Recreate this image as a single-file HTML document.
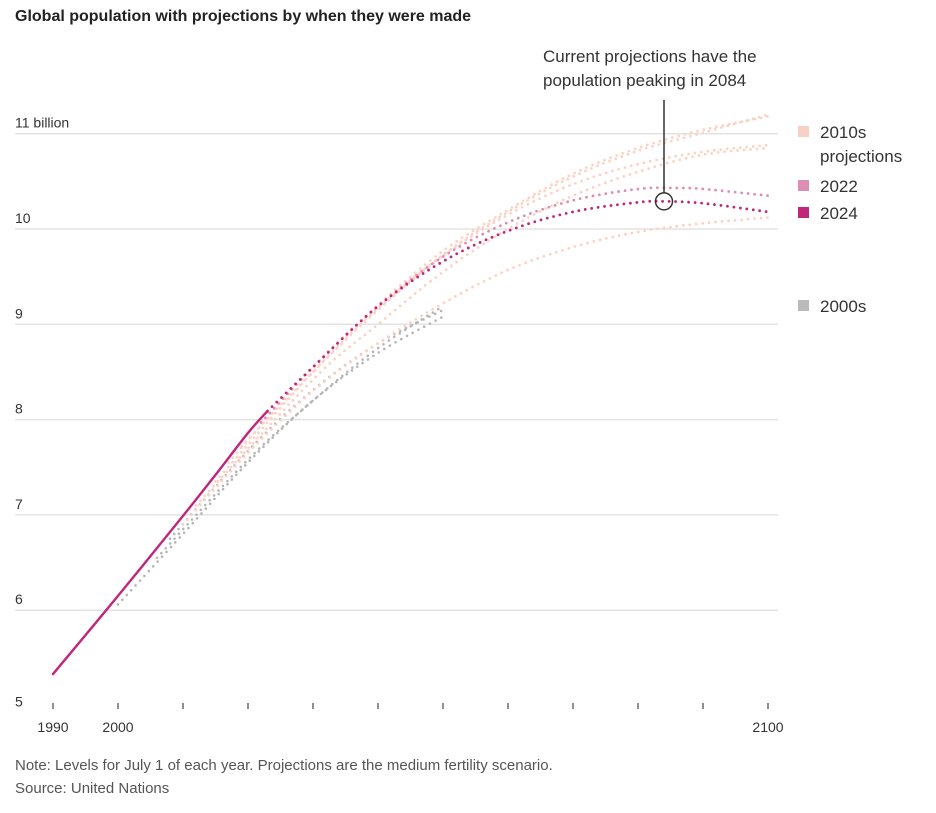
<!DOCTYPE html>
<html><head><meta charset="utf-8"><style>
body{margin:0;background:#fff;font-family:"Liberation Sans",sans-serif;}
</style></head><body>
<svg id="c" width="936" height="813" style="display:block">
<text x="15" y="21" font-size="16" font-weight="bold" fill="#222">Global population with projections by when they were made</text>
<g id="grid"></g><g id="series"></g>
<text x="543" y="62" font-size="17" fill="#333">Current projections have the</text>
<text x="543" y="86" font-size="17" fill="#333">population peaking in 2084</text>
<g>
<rect x="798" y="126" width="11" height="11" fill="#f9d0c4"/>
<text x="820" y="138" font-size="17" fill="#333">2010s</text>
<text x="820" y="162" font-size="17" fill="#333">projections</text>
<rect x="798" y="180" width="11" height="11" fill="#dc8fb2"/>
<text x="820" y="192" font-size="17" fill="#333">2022</text>
<rect x="798" y="207" width="11" height="11" fill="#c0267a"/>
<text x="820" y="219" font-size="17" fill="#333">2024</text>
<rect x="798" y="300" width="11" height="11" fill="#bbb"/>
<text x="820" y="312" font-size="17" fill="#333">2000s</text>
</g>
<text x="15" y="770" font-size="15" fill="#555">Note: Levels for July 1 of each year. Projections are the medium fertility scenario.</text>
<text x="15" y="793" font-size="15" fill="#555">Source: United Nations</text>
</svg>
<script>
const yTicks=[5,6,7,8,9,10,11];
const yTickLabels=["5","6","7","8","9","10","11 billion"];
const xTickYears=[1990,2000,2010,2020,2030,2040,2050,2060,2070,2080,2090,2100];
const xLabelYears=[1990,2000,2100];
const histYears=[1990,2000,2010,2015,2020,2023];
const histVals=[5.33,6.15,6.99,7.42,7.86,8.09];
const p2024Years=[2023,2030,2040,2050,2060,2070,2080,2084,2090,2100];
const p2024Vals=[8.09,8.55,9.19,9.66,9.98,10.18,10.28,10.29,10.27,10.18];
const p2022Years=[2022,2030,2040,2050,2060,2070,2080,2086,2090,2100];
const p2022Vals=[7.97,8.55,9.19,9.71,10.07,10.3,10.42,10.43,10.42,10.35];
const p2019Years=[2019,2030,2040,2050,2060,2070,2080,2090,2100];
const p2019Vals=[7.72,8.5,9.15,9.72,10.15,10.47,10.68,10.81,10.88];
const p2017Years=[2017,2030,2040,2050,2060,2070,2080,2090,2100];
const p2017Vals=[7.55,8.55,9.2,9.77,10.2,10.58,10.85,11.04,11.18];
const p2015Years=[2015,2030,2040,2050,2060,2070,2080,2090,2100];
const p2015Vals=[7.35,8.5,9.17,9.73,10.18,10.55,10.82,11.01,11.2];
const p2012Years=[2012,2030,2040,2050,2060,2070,2080,2090,2100];
const p2012Vals=[7.1,8.42,9.0,9.55,10.0,10.35,10.6,10.78,10.85];
const p2010Years=[2010,2020,2030,2040,2050,2060,2070,2080,2090,2100];
const p2010Vals=[6.9,7.65,8.3,8.8,9.22,9.57,9.81,9.97,10.06,10.12];
const p2008Years=[2008,2020,2030,2040,2050];
const p2008Vals=[6.75,7.67,8.31,8.8,9.15];
const p2006Years=[2006,2020,2030,2040,2050];
const p2006Vals=[6.55,7.58,8.2,8.75,9.19];
const p2004Years=[2000,2010,2020,2030,2040,2050];
const p2004Vals=[6.06,6.8,7.55,8.2,8.7,9.08];
const NS="http://www.w3.org/2000/svg";
const X=y=>53+(y-1990)*6.5;
const Y=v=>229-(v-10)*95.3;
const grid=document.getElementById('grid'),ser=document.getElementById('series');
function mk(t,a,p){const e=document.createElementNS(NS,t);for(const k in a)e.setAttribute(k,a[k]);p.appendChild(e);return e;}
yTicks.forEach((v,i)=>{
 if(v>5){const l=mk('line',{x1:15,x2:778,y1:Y(v),y2:Y(v),stroke:'#e3e3e3','stroke-width':1.5},grid);
 
 }
 const t=mk('text',{x:15,y:Y(v)-(v===5?-1:6),'font-size':14,fill:'#333'},grid);t.textContent=yTickLabels[i];
 
 
});
xTickYears.forEach(yr=>{
 const l=mk('line',{x1:X(yr),x2:X(yr),y1:703,y2:709,stroke:'#555','stroke-width':1.3},grid);
 
 
});
xLabelYears.forEach(yr=>{
 const t=mk('text',{x:X(yr),y:732,'font-size':14,fill:'#333','text-anchor':'middle'},grid);t.textContent=yr;
 
 
});
function line(ys,vs,color,dotted,w,name){
 const pts=ys.map((y,i)=>[X(y),Y(vs[i])]);
 let d='M'+pts[0];
 for(let i=0;i<pts.length-1;i++){const p0=pts[i-1]||pts[i],p1=pts[i],p2=pts[i+1],p3=pts[i+2]||p2;
  const c1=[p1[0]+(p2[0]-p0[0])/6,p1[1]+(p2[1]-p0[1])/6],c2=[p2[0]-(p3[0]-p1[0])/6,p2[1]-(p3[1]-p1[1])/6];
  d+='C'+c1+' '+c2+' '+p2;}
 const a={d:d,fill:'none',stroke:color,'stroke-width':w,'stroke-linecap':'round'};
 if(dotted)a['stroke-dasharray']='0 6.5';
 const e=mk('path',a,ser);
 
 
}
line(p2004Years,p2004Vals,'#b5b5b5',1,2.6,'projection-2004');
line(p2006Years,p2006Vals,'#b5b5b5',1,2.6,'projection-2006');
line(p2008Years,p2008Vals,'#b5b5b5',1,2.6,'projection-2008');
line(p2010Years,p2010Vals,'#fbd3c6',1,2.8,'projection-2010');
line(p2012Years,p2012Vals,'#fbd3c6',1,2.8,'projection-2012');
line(p2015Years,p2015Vals,'#fbd3c6',1,2.8,'projection-2015');
line(p2017Years,p2017Vals,'#fbd3c6',1,2.8,'projection-2017');
line(p2019Years,p2019Vals,'#fbd3c6',1,2.8,'projection-2019');
line(p2022Years,p2022Vals,'#dc8fb2',1,2.8,'projection-2022');
line(p2024Years,p2024Vals,'#c0267a',1,2.8,'projection-2024');
line(histYears,histVals,'#c0267a',0,2.4,'historical-population');
const cx=X(2084),cy=Y(10.29);
const ln=mk('line',{x1:cx,x2:cx,y1:100,y2:cy-8,stroke:'#333','stroke-width':1.5},ser);


const ci=mk('circle',{cx:cx,cy:cy,r:8.5,fill:'none',stroke:'#333','stroke-width':1.5},ser);


</script>
</body></html>
